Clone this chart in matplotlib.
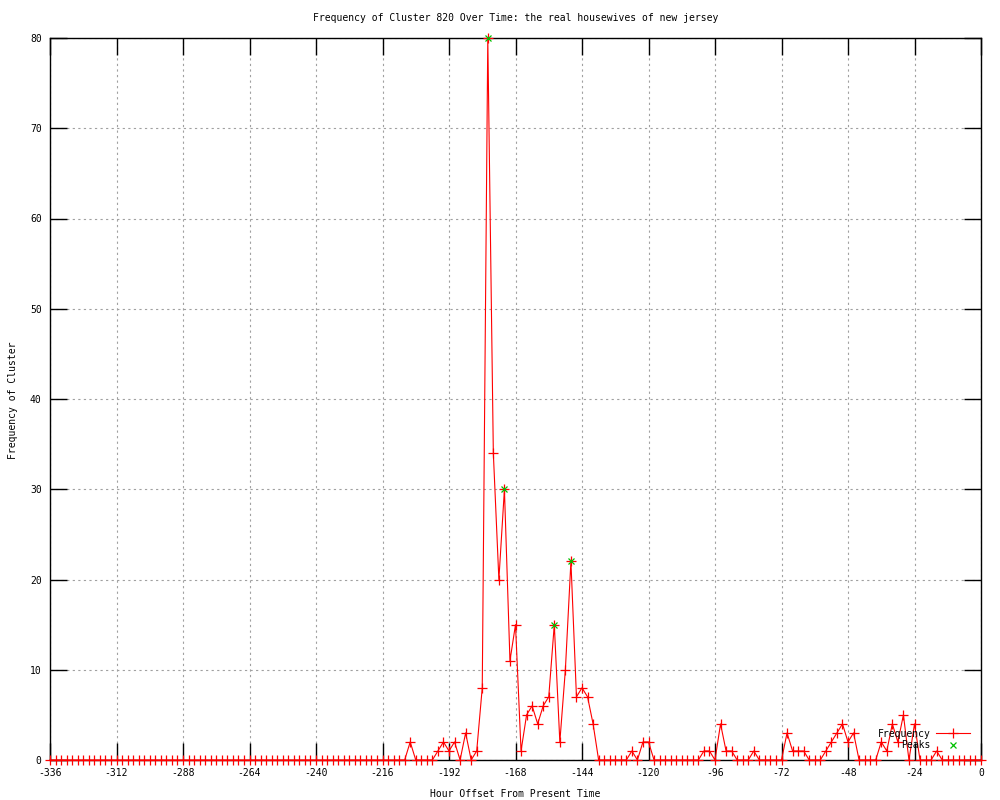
import numpy as np
import matplotlib
matplotlib.use("Agg")
from matplotlib import pyplot as plt

# hora relativa (a cada 2 horas) e frequencia do cluster
horas = np.arange(-336, 1, 2)
freq = [
    0, 0, 0, 0, 0, 0, 0, 0, 0, 0, 0, 0,
    0, 0, 0, 0, 0, 0, 0, 0, 0, 0, 0, 0,
    0, 0, 0, 0, 0, 0, 0, 0, 0, 0, 0, 0,
    0, 0, 0, 0, 0, 0, 0, 0, 0, 0, 0, 0,
    0, 0, 0, 0, 0, 0, 0, 0, 0, 0, 0, 0,
    0, 0, 0, 0, 0, 2, 0, 0, 0, 0, 1, 2,
    1, 2, 0, 3, 0, 1, 8, 80, 34, 20, 30, 11,
    15, 1, 5, 6, 4, 6, 7, 15, 2, 10, 22, 7,
    8, 7, 4, 0, 0, 0, 0, 0, 0, 1, 0, 2,
    2, 0, 0, 0, 0, 0, 0, 0, 0, 0, 1, 1,
    0, 4, 1, 1, 0, 0, 0, 1, 0, 0, 0, 0,
    0, 3, 1, 1, 1, 0, 0, 0, 1, 2, 3, 4,
    2, 3, 0, 0, 0, 0, 2, 1, 4, 2, 5, 0,
    4, 0, 0, 0, 1, 0, 0, 0, 0, 0, 0, 0,
    0,
]

# picos
picos_h = [-178, -172, -154, -148]
picos_v = [80, 30, 15, 22]

xticks = list(range(-336, 1, 24))
yticks = list(range(0, 81, 10))

plt.rcParams['font.family'] = ['DejaVu Sans Mono']
plt.rcParams['font.size'] = 7
plt.rcParams['axes.unicode_minus'] = False

fig = plt.figure(figsize=(10, 8), dpi=100)
ax = fig.add_axes([0.05, 0.05, 0.931, 0.9025])

ax.plot(horas, freq, color='red', lw=0.8, marker='+', ms=6.5, mew=0.9,
        label='Frequency', clip_on=False, zorder=3)
ax.plot(picos_h, picos_v, ls='none', color='#00c000', marker='x', ms=5,
        mew=0.9, label='Peaks', clip_on=False, zorder=4)

ax.set_xlim(-336, 0)
ax.set_ylim(0, 80)
ax.set_xticks(xticks)
ax.set_yticks(yticks)
ax.tick_params(direction='in', length=12, width=1, top=True, right=True,
               pad=6, labelsize=7)
ax.grid(True, color='#a0a0a0', ls=(0, (2, 3)), lw=0.8)
for s in ax.spines.values():
    s.set_linewidth(1)

ax.set_title('Frequency of Cluster 820 Over Time: the real housewives of new jersey',
             fontsize=7, pad=12)
ax.set_xlabel('Hour Offset From Present Time', fontsize=7, labelpad=8)
# rotulo do eixo y posto direto na figura para nao cortar
fig.text(0.013, 0.5, 'Frequency of Cluster', rotation=90, fontsize=7,
         ha='center', va='center')

leg = ax.legend(loc='lower right', bbox_to_anchor=(0.995, 0.004),
                frameon=False, markerfirst=False, fontsize=7,
                handlelength=3.4, labelspacing=0.15, borderpad=0.2,
                handletextpad=0.6)
for t in leg.get_texts():
    t.set_ha('right')

fig.savefig('out.png', dpi=100)
